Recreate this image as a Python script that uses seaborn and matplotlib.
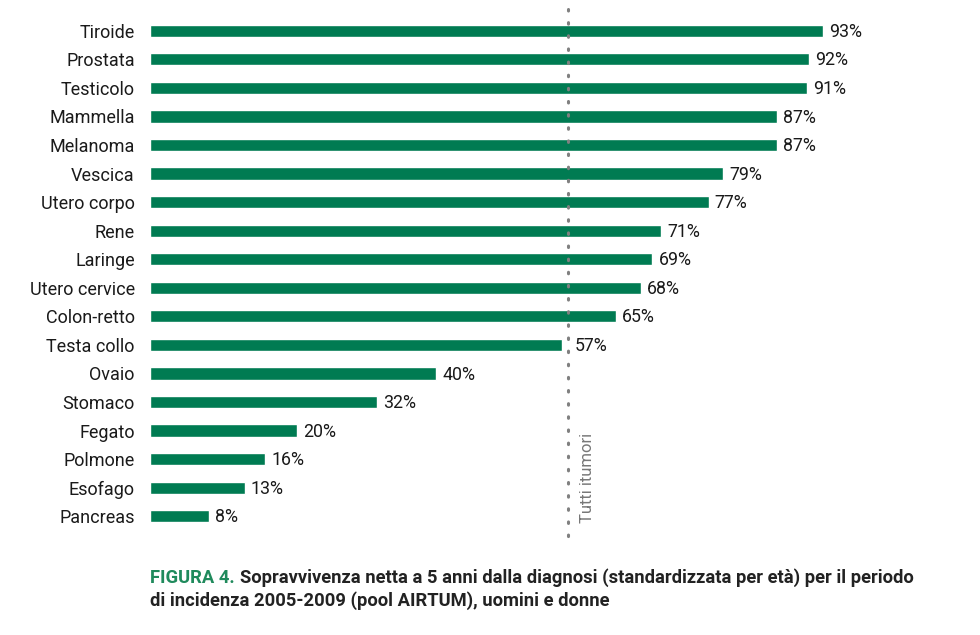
import matplotlib
matplotlib.use("Agg")
import matplotlib.pyplot as plt
import seaborn as sns
import pandas as pd

categories = ["Tiroide", "Prostata", "Testicolo", "Mammella", "Melanoma", "Vescica",
              "Utero corpo", "Rene", "Laringe", "Utero cervice", "Colon-retto",
              "Testa collo", "Ovaio", "Stomaco", "Fegato", "Polmone", "Esofago", "Pancreas"]
# bar lengths as drawn in the picture
bar_values = [93.0, 91.1, 90.8, 86.6, 86.6, 79.2, 77.2, 70.6, 69.4, 67.8, 64.4,
              56.9, 39.5, 31.4, 20.3, 15.9, 13.1, 8.15]
# printed labels
value_labels = ["93%", "92%", "91%", "87%", "87%", "79%", "77%", "71%", "69%", "68%",
                "65%", "57%", "40%", "32%", "20%", "16%", "13%", "8%"]
all_tumours = 57.8
all_label = "Tutti itumori"
caption_head = "FIGURA 4."
caption_line1 = "Sopravvivenza netta a 5 anni dalla diagnosi (standardizzata per età) per il periodo"
caption_line2 = "di incidenza 2005-2009 (pool AIRTUM), uomini e donne"

sns.set_theme(style="white")
plt.rcParams['font.family'] = ['Roboto', 'DejaVu Sans']

GREEN = "#007B52"
df = pd.DataFrame({"sede": categories, "valore": bar_values})

W, H = 980, 635
fig = plt.figure(figsize=(9.8, 6.35), dpi=100)
ax = fig.add_axes([150/W, 1 - 530.6/H, 723.7/W, (530.6 - 16.4)/H])
sns.barplot(data=df, y="sede", x="valore", orient="h", color=GREEN, width=0.43,
            saturation=1, ax=ax)
ax.set_xlim(0, 100)
ax.set_ylim(17.5, -0.5)
for s in ax.spines.values():
    s.set_visible(False)
ax.set_xticks([])
ax.set_xlabel("")
ax.set_ylabel("")
ax.tick_params(axis="y", length=0, pad=11, labelsize=13, labelcolor="#1a1a1a")

for i, (v, lab) in enumerate(zip(bar_values, value_labels)):
    x = v + 0.85
    # a label that would sit on the dotted line goes just to its right
    if abs(v - all_tumours) < 2.0:
        x = all_tumours + 0.9
    ax.text(x, i + 0.04, lab, va="center", ha="left", fontsize=12.8, color="#1a1a1a")

ax.plot([all_tumours, all_tumours], [-0.75, 17.75], linestyle=(0, (0.5, 3.8)),
        color="#808080", linewidth=2.2, dash_capstyle="round", clip_on=False)
ax.text(all_tumours + 2.7, 17.25, all_label, rotation=90, ha="center", va="bottom",
        fontsize=12, color="#777777")

# caption, scaled to span the same width as the original
fig.canvas.draw()
r = fig.canvas.get_renderer()
fs = 11.5
t1 = fig.text(150/W, 1 - 578/H, caption_head, color="#1f8a5c", fontsize=fs,
              fontweight="bold", va="center", ha="left")
w1 = t1.get_window_extent(r).width
t2 = fig.text(0, 1 - 578/H, caption_line1, color="#222222", fontsize=fs,
              fontweight="bold", va="center", ha="left")
w2 = t2.get_window_extent(r).width
gap = 0.3 * fs * 100 / 72
scale = 762 / (w1 + gap + w2)
fs2 = fs * scale
t1.set_fontsize(fs2)
t2.set_fontsize(fs2)
w1 = t1.get_window_extent(r).width
t2.set_x((150 + w1 + 0.3 * fs2 * 100 / 72) / W)
fig.text(150/W, 1 - 601/H, caption_line2, color="#222222", fontsize=fs2,
         fontweight="bold", va="center", ha="left")

fig.savefig("out.png", dpi=100)
